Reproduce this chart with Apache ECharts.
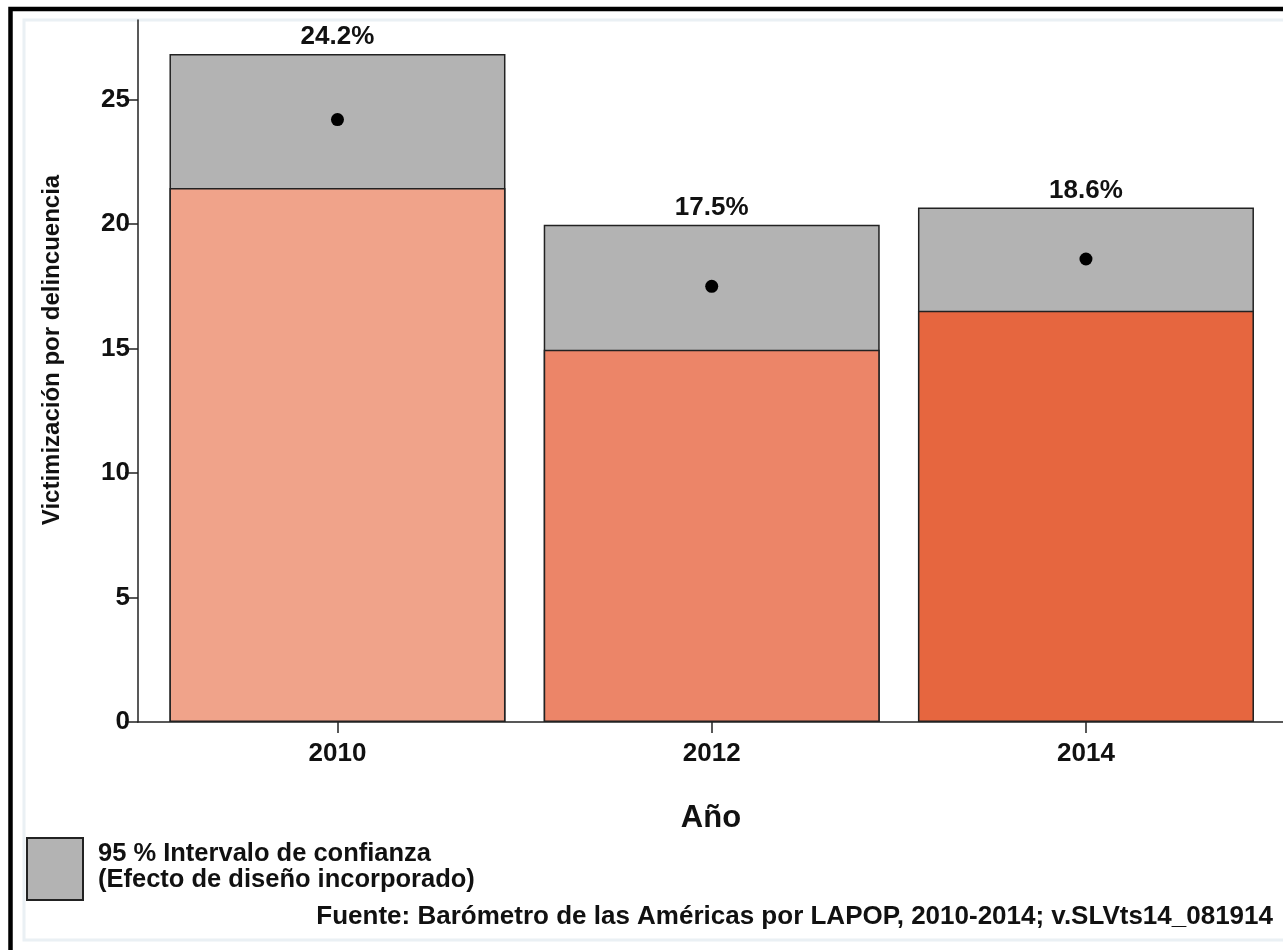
<!DOCTYPE html>
<html>
<head>
<meta charset="utf-8">
<script src="https://cdn.jsdelivr.net/npm/echarts@6/dist/echarts.min.js"></script>
<style>
html,body{margin:0;padding:0;background:#fff;}
#chart{width:1283px;height:950px;}
</style>
</head>
<body>
<div id="chart"></div>
<script>
// ---- data ----
var years = [2010, 2012, 2014];
var means = [24.2, 17.5, 18.6];
var ciLow = [21.45, 14.95, 16.52];
var ciHigh = [26.83, 19.98, 20.67];
var yTicks = [0, 5, 10, 15, 20, 25];
var barColors = ['#F0A38A', '#EC8568', '#E6663F'];
var ciColor = '#B3B3B3';
var yTitle = 'Victimización por delincuencia';
var xTitle = 'Año';
var legendLines = ['95 % Intervalo de confianza', '(Efecto de diseño incorporado)'];
var sourceText = 'Fuente: Barómetro de las Américas por LAPOP, 2010-2014; v.SLVts14_081914';

var FONT = '"Liberation Sans", Arial, sans-serif';
var lineCol = '#222';

var chart = echarts.init(document.getElementById('chart'), null, {renderer: 'canvas'});

var highData = years.map(function (y, i) {
  return {value: [y, ciHigh[i]], mean: means[i]};
});
var lowData = years.map(function (y, i) {
  return {value: [y, ciLow[i]], itemStyle: {color: barColors[i]}};
});
var meanData = years.map(function (y, i) { return [y, means[i]]; });

var option = {
  animation: false,
  backgroundColor: '#fff',
  grid: {left: 138, top: 20, right: 0, bottom: 228, containLabel: false},
  xAxis: {
    type: 'value',
    min: 2008.934,
    max: 2015.053,
    axisLine: {show: true, lineStyle: {color: lineCol, width: 1.5}},
    axisTick: {show: true, customValues: years, length: 11, lineStyle: {color: lineCol, width: 1.5}},
    axisLabel: {customValues: years, margin: 19, fontFamily: FONT, fontWeight: 'bold', fontSize: 26, color: '#111',
      formatter: function (v) { return String(v); }},
    splitLine: {show: false}
  },
  yAxis: {
    type: 'value',
    min: 0,
    max: 28.2,
    axisLine: {show: true, lineStyle: {color: lineCol, width: 1.5}},
    axisTick: {show: true, customValues: yTicks, length: 13, lineStyle: {color: lineCol, width: 1.5}},
    axisLabel: {customValues: yTicks, margin: 8, fontFamily: FONT, fontWeight: 'bold', fontSize: 26, color: '#111'},
    splitLine: {show: false}
  },
  series: [
    {
      type: 'bar',
      barWidth: 336,
      barGap: '-100%',
      data: highData,
      itemStyle: {color: ciColor, borderColor: lineCol, borderWidth: 1.5},
      label: {
        show: true,
        position: 'top',
        distance: 4,
        fontFamily: FONT,
        fontWeight: 'bold',
        fontSize: 26,
        color: '#111',
        formatter: function (p) { return p.data.mean.toFixed(1) + '%'; }
      },
      z: 2
    },
    {
      type: 'bar',
      barWidth: 336,
      barGap: '-100%',
      data: lowData,
      itemStyle: {borderColor: lineCol, borderWidth: 1.5},
      z: 3
    },
    {
      type: 'scatter',
      data: meanData,
      symbol: 'circle',
      symbolSize: 13,
      itemStyle: {color: '#000', opacity: 1},
      z: 5
    }
  ],
  graphic: [
    {type: 'rect', shape: {x: 10.5, y: 9, width: 1400, height: 1100}, style: {fill: 'none', stroke: '#000', lineWidth: 4.5}, z: 100},
    {type: 'rect', shape: {x: 24, y: 20, width: 1400, height: 920}, style: {fill: 'none', stroke: '#EAF0F4', lineWidth: 3}, z: -1},
    {type: 'text', x: 52, y: 350, rotation: Math.PI / 2,
      style: {text: yTitle, font: 'bold 24px ' + FONT, fill: '#111', textAlign: 'center', textVerticalAlign: 'middle'}},
    {type: 'text', x: 711, y: 818,
      style: {text: xTitle, font: 'bold 31px ' + FONT, fill: '#111', textAlign: 'center', textVerticalAlign: 'middle'}},
    {type: 'rect', shape: {x: 27, y: 838, width: 56, height: 62}, style: {fill: ciColor, stroke: lineCol, lineWidth: 2}},
    {type: 'text', x: 98, y: 854,
      style: {text: legendLines[0], font: 'bold 25.5px ' + FONT, fill: '#111', textAlign: 'left', textVerticalAlign: 'middle'}},
    {type: 'text', x: 98, y: 880,
      style: {text: legendLines[1], font: 'bold 25.5px ' + FONT, fill: '#111', textAlign: 'left', textVerticalAlign: 'middle'}},
    {type: 'text', x: 1273, y: 917,
      style: {text: sourceText, font: 'bold 26px ' + FONT, fill: '#111', textAlign: 'right', textVerticalAlign: 'middle'}}
  ]
};
chart.setOption(option);
</script>
</body>
</html>
